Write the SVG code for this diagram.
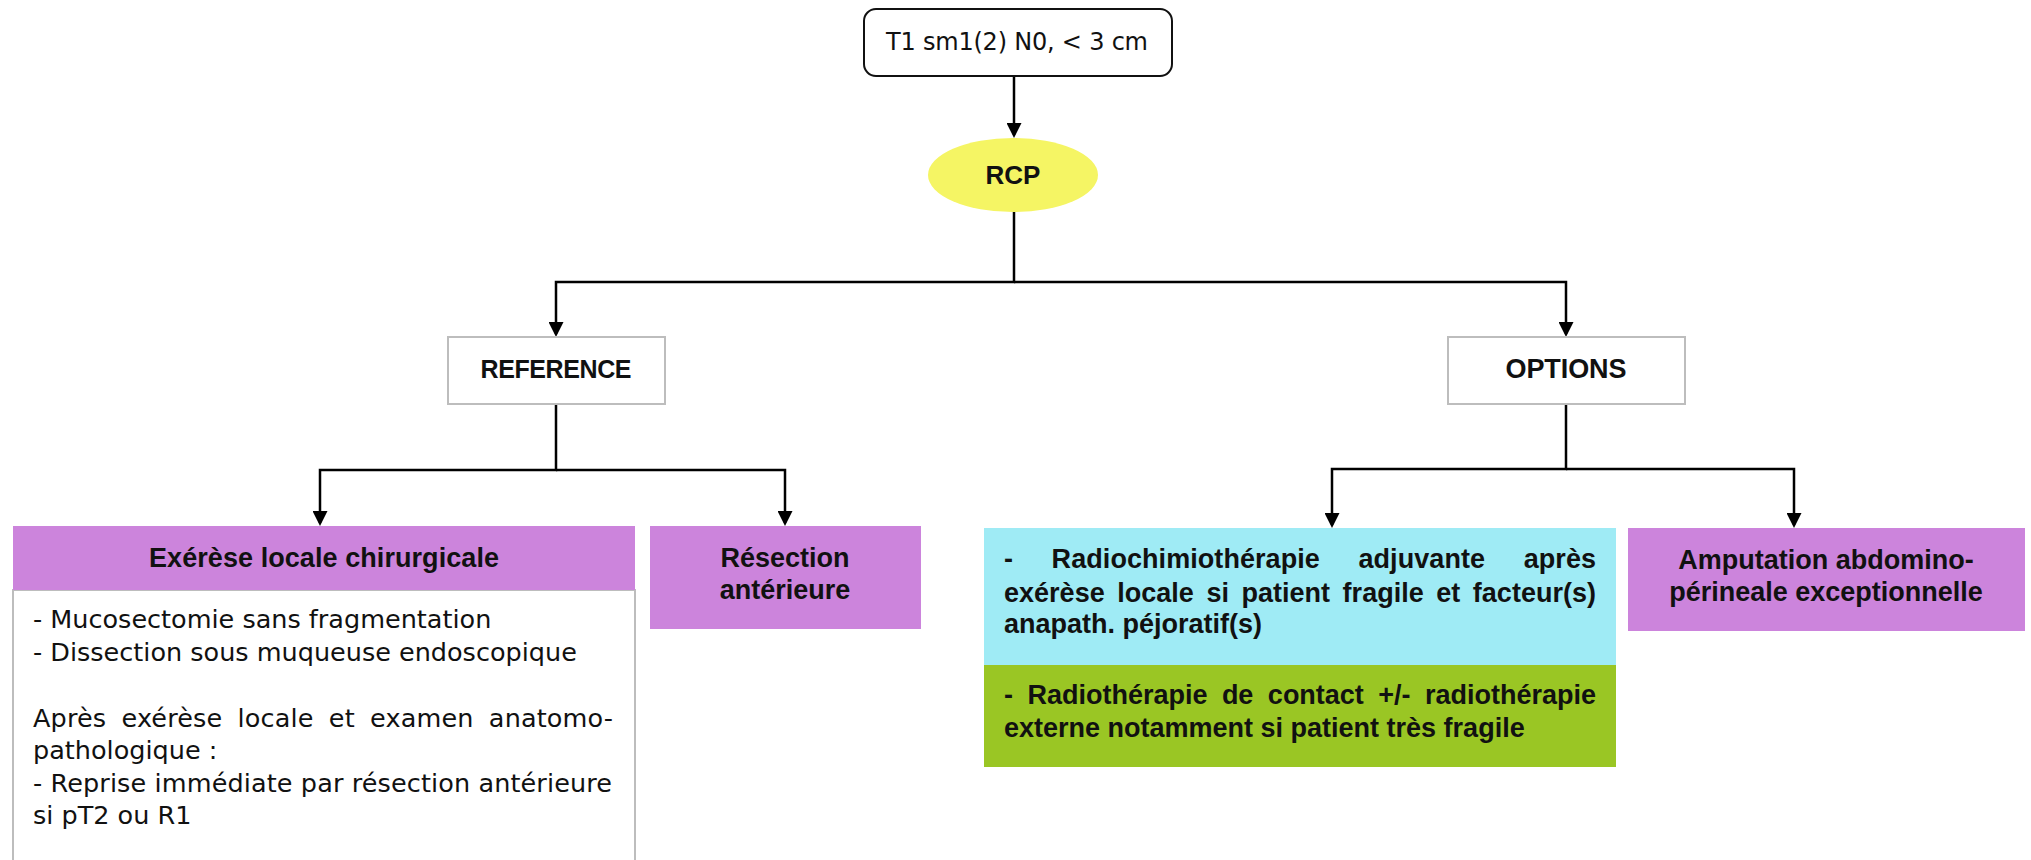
<svg xmlns="http://www.w3.org/2000/svg" width="2031" height="860" viewBox="0 0 2031 860">
<style>
.conn{stroke:#000;stroke-width:2.5;fill:none}
.reg{font-family:"DejaVu Sans",sans-serif;font-size:25.5px;fill:#111}
.b{font-family:"Liberation Sans",Arial,sans-serif;font-weight:bold;font-size:27px;fill:#111}
.mid{text-anchor:middle}
.gray{fill:#fff;stroke:#bdbdbd;stroke-width:2}
.purple{fill:#cc84dc}
</style>
<defs>
<marker id="arr" viewBox="0 0 10 10" refX="8" refY="5" markerWidth="15" markerHeight="15" markerUnits="userSpaceOnUse" orient="auto">
<path d="M0,0 L10,5 L0,10 z" fill="#000"/>
</marker>
</defs>
<rect width="2031" height="860" fill="#fff"/>
<g id="connectors">
<path class="conn" d="M1014,76 V135" marker-end="url(#arr)"/>
<path class="conn" d="M1014,211 V282 H556 V334" marker-end="url(#arr)"/>
<path class="conn" d="M1014,282 H1566 V334" marker-end="url(#arr)"/>
<path class="conn" d="M556,404 V470 H320 V523" marker-end="url(#arr)"/>
<path class="conn" d="M556,470 H785 V523" marker-end="url(#arr)"/>
<path class="conn" d="M1566,404 V469 H1332 V525" marker-end="url(#arr)"/>
<path class="conn" d="M1566,469 H1794 V525" marker-end="url(#arr)"/>
</g>
<g id="top">
<rect x="864" y="9" width="308" height="67" rx="12" fill="#fff" stroke="#111" stroke-width="2"/>
<text class="reg mid" x="1017" y="50" style="font-size:24px" textLength="262">T1 sm1(2) N0, &lt; 3 cm</text>
</g>
<g id="rcp">
<ellipse cx="1013" cy="175" rx="85" ry="37" fill="#f5f564"/>
<text class="b mid" x="1013" y="184" style="font-size:26px">RCP</text>
</g>
<g id="reference">
<rect class="gray" x="448" y="337" width="217" height="67"/>
<text class="b mid" x="556" y="378" style="font-size:25px" textLength="151">REFERENCE</text>
</g>
<g id="options">
<rect class="gray" x="1448" y="337" width="237" height="67"/>
<text class="b mid" x="1566" y="378" textLength="121">OPTIONS</text>
</g>
<g id="exerese">
<rect class="gray" x="13" y="590" width="622" height="300"/>
<rect class="purple" x="13" y="526" width="622" height="64"/>
<text class="b mid" x="324" y="567" textLength="350">Exérèse locale chirurgicale</text>
<text class="reg" x="33" y="628">- Mucosectomie sans fragmentation</text>
<text class="reg" x="33" y="661">- Dissection sous muqueuse endoscopique</text>
<text class="reg" x="33" y="727" word-spacing="7" textLength="580">Après exérèse locale et examen anatomo-</text>
<text class="reg" x="33" y="759">pathologique :</text>
<text class="reg" x="33" y="792" textLength="579">- Reprise immédiate par résection antérieure</text>
<text class="reg" x="33" y="824">si pT2 ou R1</text>
</g>
<g id="resection">
<rect class="purple" x="650" y="526" width="271" height="103"/>
<text class="b mid" x="785" y="567">Résection</text>
<text class="b mid" x="785" y="599">antérieure</text>
</g>
<g id="radiochimio">
<rect x="984" y="528" width="632" height="137" fill="#9febf5"/>
<text class="b" x="1004" y="568" word-spacing="31" textLength="592">- Radiochimiothérapie adjuvante après</text>
<text class="b" x="1004" y="602" word-spacing="5" textLength="592">exérèse locale si patient fragile et facteur(s)</text>
<text class="b" x="1004" y="633">anapath. péjoratif(s)</text>
</g>
<g id="radiotherapie">
<rect x="984" y="665" width="632" height="102" fill="#9ac624"/>
<text class="b" x="1004" y="704" word-spacing="7" textLength="592">- Radiothérapie de contact +/- radiothérapie</text>
<text class="b" x="1004" y="737">externe notamment si patient très fragile</text>
</g>
<g id="amputation">
<rect class="purple" x="1628" y="528" width="397" height="103"/>
<text class="b mid" x="1826" y="569">Amputation abdomino-</text>
<text class="b mid" x="1826" y="601">périneale exceptionnelle</text>
</g>
</svg>
